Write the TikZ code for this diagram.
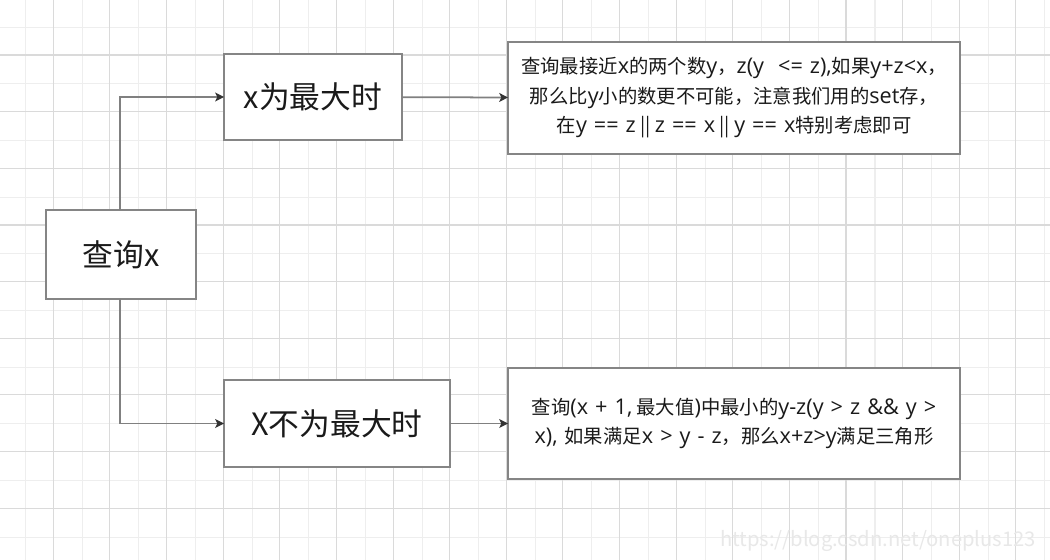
\documentclass[tikz,border=0pt]{standalone}
\usepackage{fontspec}
\setmainfont{Noto Sans CJK SC}
\newfontfamily\latinfont{Open Sans}[Scale=1.12,WordSpace=1.25]
\newcommand{\lt}[1]{{\latinfont #1}}
\usepackage{tikz}
\usetikzlibrary{arrows.meta,positioning}
\definecolor{gridlight}{HTML}{EEEEEE}
\definecolor{griddark}{HTML}{DADADA}
\definecolor{boxline}{HTML}{858585}
\definecolor{wireline}{HTML}{808080}
\definecolor{tipcol}{HTML}{333333}
\definecolor{inkcol}{HTML}{1A1A1A}

\begin{document}
\begin{tikzpicture}[x=0.02cm,y=-0.02cm,
          every node/.style={text=inkcol},
          bigbox/.style={draw=boxline,line width=1.1pt,fill=white,inner sep=0pt,
                         outer sep=0pt,font=\fontsize{17.5}{20}\selectfont},
          notebox/.style={draw=boxline,line width=1.1pt,fill=white,inner sep=0pt,
                          outer sep=0pt,minimum width=9.04cm,align=center,
                          font=\fontsize{11}{16.8}\selectfont},
          wire/.style={draw=wireline,line width=1pt,
                       -{Stealth[length=5pt,width=5pt,inset=1.2pt,color=tipcol]}},
      ]
        \useasboundingbox (0,0) rectangle (1050,560);
        \fill[white] (0,0) rectangle (1050,560);

        \foreach \i in {0,...,18}
          \draw[gridlight,line width=0.6pt] ({25.7+56.62*\i},0) -- ++(0,560);
        \foreach \i in {0,...,9}
          \draw[gridlight,line width=0.6pt] (0,{27.3+56.66*\i}) -- ++(1050,0);
        \foreach \i in {0,...,17}
          \draw[griddark,line width=0.6pt] ({53.3+56.62*\i},0) -- ++(0,560);
        \foreach \i in {0,...,8}
          \draw[griddark,line width=0.6pt] (0,{55+56.66*\i}) -- ++(1050,0);

        \node[bigbox,minimum width=3cm,minimum height=1.78cm] (query) at (121,254.5) {查询x};
        \node[bigbox,minimum width=3.56cm,minimum height=1.72cm] (maxcase) at (313,97) {x为最大时};
        \node[bigbox,minimum width=4.52cm,minimum height=1.74cm] (notmax) at (337,423.5) {X不为最大时};

        \node[notebox,minimum height=2.24cm] (maxnote) at (734,98)
          {查询最接近\lt{x}的两个数\lt{y}，\lt{z(y \ <= z),}如果\lt{y+z<x}，\\
           那么比\lt{y}小的数更不可能，注意我们用的\lt{set}存，\\
           在\lt{y == z} || \lt{z == x} || \lt{y == x}特别考虑即可};
        \node[notebox,minimum height=2.22cm] (notmaxnote) at (734,423.5)
          {查询\lt{(x + 1,} 最大值\lt{)}中最小的\lt{y-z(y > z \&\& y >}\\
           \lt{x), }如果满足\lt{x > y - z}，那么\lt{x+z>y}满足三角形};

        \draw[wire] (query.north -| 120,0) |- (maxcase.west);
        \draw[wire] (query.south -| 120,0) |- (notmax.west);
        \draw[wire] (maxcase) -- (maxnote);
        \draw[wire] (notmax) -- (notmaxnote);

        \node[text=black!9,font=\fontsize{11.5}{12}\selectfont,anchor=east] (mark)
          at (1042,541) {https://blog.csdn.net/oneplus123};
      \end{tikzpicture}
\end{document}
